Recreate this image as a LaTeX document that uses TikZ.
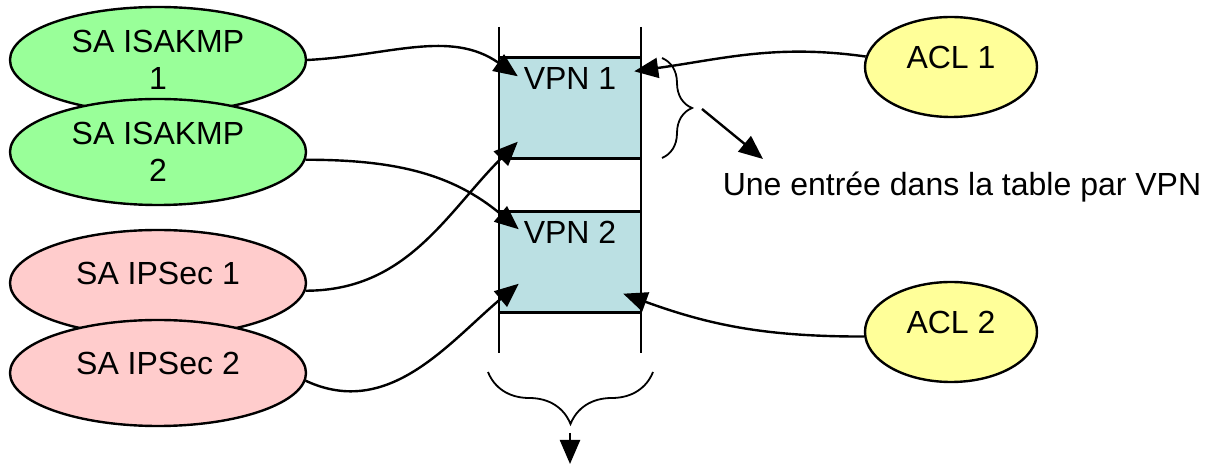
\documentclass[tikz,border=0pt]{standalone}
\usepackage{fontspec}
\setmainfont{Liberation Sans}
\usetikzlibrary{shapes.geometric, arrows.meta, decorations.pathreplacing}

\definecolor{isakmpgreen}{HTML}{99FF99}
\definecolor{ipsecpink}{HTML}{FFCCCC}
\definecolor{aclyellow}{HTML}{FFFF99}
\definecolor{vpnblue}{HTML}{BBE0E3}

\begin{document}
\begin{tikzpicture}[x=0.5pt, y=0.5pt, line width=1.2pt,
    font=\fontsize{16}{18.5}\selectfont,
    >={Triangle[length=12pt, width=10pt]},
    sa/.style={ellipse, draw, minimum width=148pt, minimum height=53pt, align=center},
    acl/.style={ellipse, draw, fill=aclyellow, minimum width=86pt, minimum height=50pt, text depth=10pt},
    vpnbox/.style={rectangle, draw, fill=vpnblue, minimum width=71pt, minimum height=50.5pt},
    vpnlabel/.style={anchor=north, inner sep=0pt, yshift=-5pt},
    tablebrace/.style={decorate, line width=0.9pt}]
    \useasboundingbox (0,0) rectangle (1216,466);

    % Rails of the table
    \draw (499,439) -- (499,113);
    \draw (641,439) -- (641,113);

    % Table entries
    \node[vpnbox, label={[vpnlabel]north:VPN 1}] (vpn1) at (570,358) {};
    \node[vpnbox, label={[vpnlabel]north:VPN 2}] (vpn2) at (570,204) {};

    % Security associations
    \node[sa, fill=isakmpgreen] (isakmp1) at (158,406) {SA ISAKMP\\1};
    \node[sa, fill=isakmpgreen] (isakmp2) at (158,314) {SA ISAKMP\\2};
    \node[sa, fill=ipsecpink, text depth=10pt] (ipsec1) at (158,183) {SA IPSec 1};
    \node[sa, fill=ipsecpink, text depth=10pt] (ipsec2) at (158,93) {SA IPSec 2};

    % Access lists
    \node[acl] (acl1) at (951,399) {ACL 1};
    \node[acl] (acl2) at (951,134) {ACL 2};

    % One entry per VPN
    \draw[tablebrace, decoration={brace, amplitude=15pt}] (662,408) -- (662,308);
    \coordinate (brace1) at (702,357);
    \coordinate (note1) at (763,307);
    \node (note) at (962,279) {Une entrée dans la table par VPN};
    \draw[->] (brace1) -- (note1);

    \draw[tablebrace, decoration={brace, mirror, amplitude=26pt}] (488,94) -- (653,94);
    \coordinate (brace2) at (570,33);
    \coordinate (out2) at (570,2);
    \draw[->] (brace2) -- (out2);

    % Links into the table
    \draw[->] (isakmp1.east) to[out=3, in=145] ([shift={(20,-20)}]vpn1.north west);
    \draw[->] (isakmp2.-3) to[out=0, in=140] ([shift={(21,-19)}]vpn2.north west);
    \draw[->] (ipsec1.-3) to[out=0, in=225] ([shift={(20,18)}]vpn1.south west);
    \draw[->] (ipsec2.-3) to[out=-25, in=220] ([shift={(21,30)}]vpn2.south west);
    \draw[->] (acl1.173) to[out=172, in=8] ([shift={(-8,-15)}]vpn1.north east);
    \draw[->] (acl2.-177) to[out=180, in=-20] ([shift={(-19,20)}]vpn2.south east);

\end{tikzpicture}
\end{document}
